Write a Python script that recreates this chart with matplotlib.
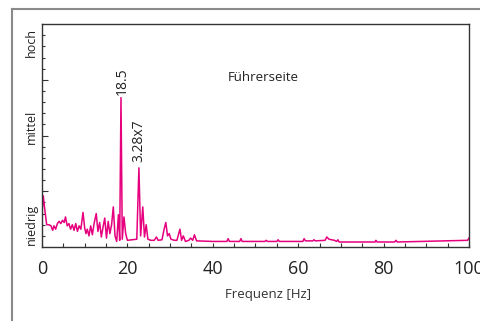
import numpy as np
import matplotlib.pyplot as plt
from matplotlib.lines import Line2D

# -------------------------
# data
# -------------------------

freq = [0.0, 0.3, 0.7, 1.1, 1.6, 2.1, 2.5, 2.8, 3.2, 3.6, 4.0, 4.4, 4.8, 5.2,
        5.5, 5.9, 6.3, 6.7, 7.1, 7.5, 7.9, 8.3, 8.7, 9.1, 9.6, 10.0, 10.3,
        10.6, 11.0, 11.4, 11.8, 12.2, 12.7, 13.1, 13.5, 13.9, 14.3, 14.7,
        15.1, 15.5, 15.9, 16.3, 16.7, 17.1, 17.5, 17.9, 18.2, 18.5, 18.8,
        19.2, 19.6, 20.0, 22.2, 22.7, 23.1, 23.6, 24.0, 24.4, 24.8, 25.5,
        26.3, 26.8, 27.2, 28.1, 28.6, 29.0, 29.4, 29.8, 30.2, 31.0, 31.6,
        32.3, 32.7, 33.1, 33.6, 34.4, 34.8, 35.3, 35.7, 36.2, 40.0, 43.3,
        43.6, 43.9, 46.3, 46.6, 46.9, 52.2, 52.5, 52.8, 55.0, 55.3, 55.6,
        61.1, 61.4, 61.7, 63.4, 63.7, 64.0, 66.3, 66.7, 67.2, 68.5, 69.0,
        69.3, 69.6, 78.0, 78.2, 78.5, 82.6, 82.9, 83.2, 99.7, 100.0]

amp = [3.0, 4.6, 3.2, 2.0, 2.0, 1.9, 1.5, 1.9, 1.6, 2.1, 2.3, 2.1, 2.4, 2.2,
       2.7, 1.9, 2.1, 1.6, 2.0, 1.5, 2.1, 1.4, 1.9, 1.6, 3.1, 1.7, 1.2,
       1.6, 1.0, 1.9, 1.1, 2.1, 3.0, 1.4, 2.2, 0.9, 1.8, 2.6,
       0.8, 2.3, 1.2, 2.0, 3.6, 1.0, 0.5, 2.9, 0.6, 13.4, 0.7,
       2.7, 1.2, 0.6, 0.7, 7.1, 1.0, 3.6, 0.9, 2.0, 0.7, 0.6,
       0.6, 0.9, 0.6, 0.65, 1.6, 2.2, 1.0, 1.2, 0.7, 0.6, 0.6,
       1.6, 0.6, 1.0, 0.5, 0.6, 0.8, 0.6, 1.1, 0.55, 0.5, 0.5,
       0.75, 0.5, 0.5, 0.75, 0.5, 0.5, 0.6, 0.5, 0.5, 0.65, 0.5,
       0.5, 0.75, 0.55, 0.55, 0.65, 0.55, 0.6, 0.9, 0.7, 0.6, 0.5,
       0.65, 0.45, 0.45, 0.6, 0.45, 0.45, 0.6, 0.45, 0.6, 0.8]

x_ticks = [0, 20, 40, 60, 80, 100]
level_labels = ["niedrig", "mittel", "hoch"]

plt.rcParams["font.family"] = ["Open Sans", "DejaVu Sans"]

fig = plt.figure(figsize=(4.8, 3.21), dpi=100)
ax = fig.add_axes([0.0875, 0.2305, 0.8895, 0.6945])

# outer frame (only top and left visible)
fig.add_artist(Line2D([12 / 480, 1.0], [1 - 9 / 321, 1 - 9 / 321],
                      transform=fig.transFigure, color="#8a8a8a", lw=1.5))
fig.add_artist(Line2D([12 / 480, 12 / 480], [0.0, 1 - 9 / 321],
                      transform=fig.transFigure, color="#8a8a8a", lw=1.5))

ax.plot(freq, amp, color="#e6007e", lw=1.1)

ax.set_xlim(0, 100)
ax.set_ylim(0, 20)

ax.set_xticks(x_ticks)
ax.set_xticks(np.arange(0, 101, 5), minor=True)
ax.set_yticks([5, 10, 15])
ax.set_yticks(np.arange(1, 20, 1), minor=True)
ax.set_yticklabels([])

ax.tick_params(axis="x", which="both", direction="in", length=3,
               width=0.8, colors="#333333", labelsize=13, pad=9,
               labelcolor="#222222")
ax.tick_params(axis="y", which="major", direction="in", length=4.5,
               width=0.8, colors="#333333")
ax.tick_params(axis="y", which="minor", direction="in", length=2.5,
               width=0.8, colors="#333333")

for s in ax.spines.values():
    s.set_color("#333333")
    s.set_linewidth(1.0)

for lab, yy in zip(level_labels, [0.103, 0.538, 0.919]):
    ax.text(-0.024, yy, lab, transform=ax.transAxes, rotation=90,
            ha="center", va="center", fontsize=9, color="#222222")

ax.set_xlabel("Frequenz [Hz]", fontsize=9.5, color="#333333")
ax.xaxis.set_label_coords(0.529, -0.185)

ax.text(51.8, 15.2, "Führerseite", ha="center", va="center",
        fontsize=9.5, color="#222222")
ax.text(18.9, 13.6, "18.5", rotation=90, ha="center", va="bottom",
        fontsize=10, color="#222222")
ax.text(22.7, 7.6, "3.28x7", rotation=90, ha="center", va="bottom",
        fontsize=10, color="#222222")

fig.savefig("out.png", dpi=100)
